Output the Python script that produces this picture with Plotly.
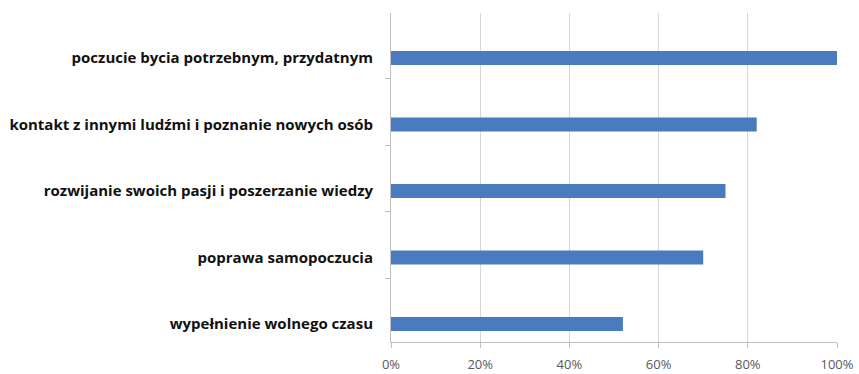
import plotly.graph_objects as go

# Motives for volunteering, share of respondents (%)
categories = [
    "poczucie bycia potrzebnym, przydatnym",
    "kontakt z innymi ludźmi i poznanie nowych osób",
    "rozwijanie swoich pasji i poszerzanie wiedzy",
    "poprawa samopoczucia",
    "wypełnienie wolnego czasu",
]
values = [100, 82, 75, 70, 52]
x_ticks = [0, 20, 40, 60, 80, 100]
x_tick_labels = ["0%", "20%", "40%", "60%", "80%", "100%"]

bar_color = "#4a7bbf"
axis_color = "#bfbfbf"
grid_color = "#d6d6d6"

# bars sit at integer rows, top row first
rows = list(range(len(categories)))
# separator ticks between the rows
row_separators = [r + 0.31 for r in rows[:-1]]

fig = go.Figure(
    go.Bar(
        x=values,
        y=rows,
        orientation="h",
        marker=dict(color=bar_color, line=dict(width=0)),
        width=0.21,
        customdata=categories,
        hovertemplate="%{customdata}: %{x}%<extra></extra>",
    )
)

fig.update_layout(
    width=859,
    height=374,
    margin=dict(l=391, r=22, t=13, b=32),
    paper_bgcolor="white",
    plot_bgcolor="white",
    showlegend=False,
    font=dict(family="'Open Sans', sans-serif"),
)

fig.update_xaxes(
    range=[0, 100],
    tickvals=x_ticks,
    ticktext=x_tick_labels,
    showgrid=True,
    gridcolor=grid_color,
    gridwidth=1,
    showline=True,
    linecolor=axis_color,
    linewidth=1,
    ticks="outside",
    ticklen=5,
    tickcolor=axis_color,
    tickfont=dict(size=13, color="#595959"),
    ticklabelstandoff=5,
    zeroline=False,
    automargin=False,
)

fig.update_yaxes(
    range=[4.27, -0.677],
    tickvals=rows,
    ticktext=categories,
    showgrid=False,
    zeroline=False,
    showline=True,
    linecolor=axis_color,
    linewidth=1,
    ticks="",
    tickfont=dict(size=15, color="#111111", family="'Open Sans', sans-serif", weight="bold"),
    ticklabelstandoff=14,
    minor=dict(tickvals=row_separators, ticks="outside", ticklen=5, tickcolor=axis_color, showgrid=False),
    automargin=False,
)

fig.write_html("out.html")
